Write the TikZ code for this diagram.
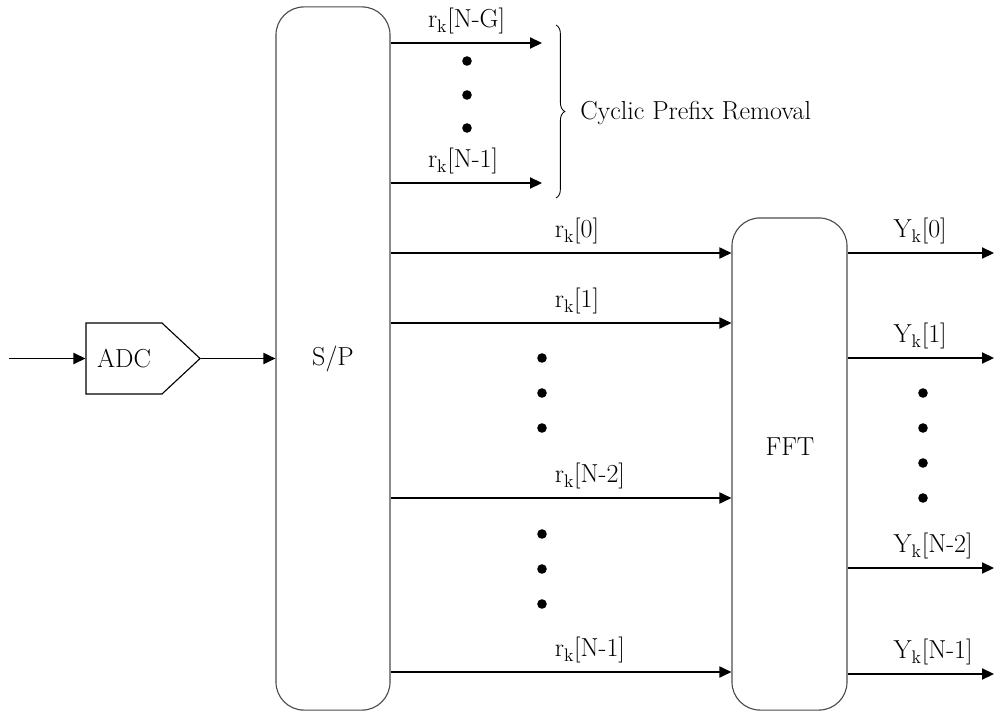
\documentclass[tikz,border=0pt]{standalone}
\usepackage{tikz}
\usetikzlibrary{arrows.meta,positioning,calc,shapes.symbols,decorations.pathreplacing}

\tikzset{
  block/.style={draw=black!70, line width=0.8pt, rounded corners=0.7cm, fill=white},
  sig/.style={-{Triangle[length=0.3cm,width=0.28cm]}, line width=0.9pt},
  lbl/.style={anchor=south west, inner sep=0pt, yshift=0.2cm},
}

\begin{document}
\begin{tikzpicture}[x=0.025cm, y=-0.025cm, every node/.style={font=\fontsize{18.5}{22}\selectfont}]
\useasboundingbox (0,0) rectangle (995,711);

\node[block, minimum width=2.85cm, minimum height=17.575cm] (sp) at (333,358.5) {S/P};
\node[block, minimum width=2.875cm, minimum height=12.3cm] (fft) at (789.5,464) {};
\node (fftname) at (790,447) {FFT};
\node[draw, line width=0.8pt, signal, signal to=east, signal pointer angle=86,
      minimum width=2.85cm, minimum height=1.775cm] (adc) at (124,358.5) {ADC};

\coordinate (in) at (9,358.5);
\draw[sig] (in) -- (adc.west);
\draw[sig] (adc.east) -- (sp.west |- adc.east);

% samples dropped as cyclic prefix
\coordinate (cpa) at (542,43);
\coordinate (cpb) at (542,183);
\draw[sig] (sp.east |- cpa) -- node[lbl, pos=0.243] (lcpa) {r\textsubscript{k}[N-G]} (cpa);
\draw[sig] (sp.east |- cpb) -- node[lbl, pos=0.243] (lcpb) {r\textsubscript{k}[N-1]} (cpb);
\foreach \y in {61,95,128}
  \fill (467,\y) circle (0.12cm);
\draw[decorate, decoration={brace, amplitude=0.22cm}, line width=0.6pt] (556,25) -- (556,198);
\node[anchor=west, inner sep=0pt] (cpr) at (580,113) {Cyclic Prefix Removal};

% samples into the FFT
\foreach \y/\t [count=\i] in {253/0, 323/1, 498/N-2, 672/N-1}
  \draw[sig] (sp.east |- 0,\y) -- node[lbl, pos=0.48] (lr\i) {r\textsubscript{k}[\t]} (fft.west |- 0,\y);
\foreach \y in {358,393,428,534,569,604}
  \fill (542,\y) circle (0.12cm);

% FFT outputs
\foreach \y/\t [count=\i] in {253/0, 358/1, 568/N-2, 674/N-1} {
  \coordinate (out\i) at (994,\y);
  \draw[sig] (fft.east |- out\i) -- node[lbl, pos=0.31] (ly\i) {Y\textsubscript{k}[\t]} (out\i);
}
\foreach \y in {393,428,463,498}
  \fill (923,\y) circle (0.12cm);
\end{tikzpicture}
\end{document}
